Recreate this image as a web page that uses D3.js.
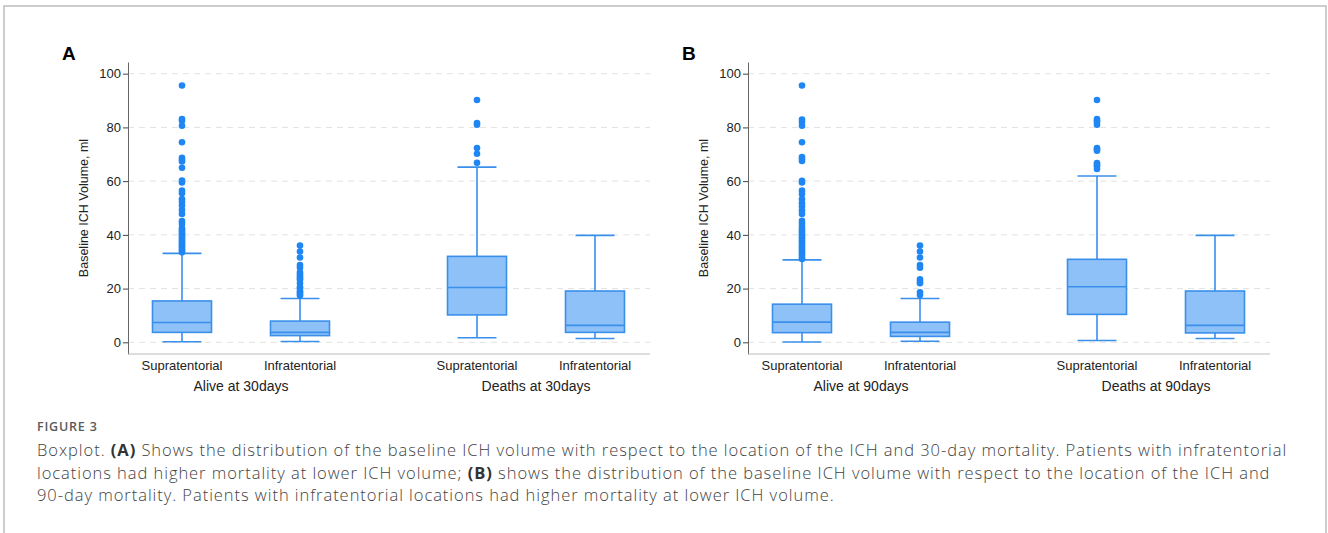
<!DOCTYPE html>
<html>
<head>
<meta charset="utf-8">
<script src="https://cdn.jsdelivr.net/npm/d3@7"></script>
<style>
  body { margin: 0; background: #fff; }
  svg { display: block; }
  .tick text { font-family: "Liberation Sans", Arial, sans-serif; fill: #222; }
</style>
</head>
<body>
<script>
// Categories
var locations = ["Supratentorial", "Infratentorial"];
var groupsA = ["Alive at 30days", "Deaths at 30days"];
var groupsB = ["Alive at 90days", "Deaths at 90days"];
var yTicks = [0, 20, 40, 60, 80, 100];

// Box stats, order: alive supra, alive infra, deaths supra, deaths infra
var lowA  = [0.2, 0.3, 1.7, 1.4];
var q1A   = [3.7, 2.5, 10.2, 3.7];
var medA  = [7.4, 3.7, 20.4, 6.3];
var q3A   = [15.4, 7.9, 32.0, 19.1];
var highA = [33.1, 16.3, 65.2, 39.8];

var lowB  = [0.1, 0.4, 0.7, 1.4];
var q1B   = [3.6, 2.2, 10.4, 3.5];
var medB  = [7.5, 3.7, 20.7, 6.3];
var q3B   = [14.2, 7.5, 30.9, 19.1];
var highB = [30.7, 16.3, 61.9, 39.8];

// Outliers
var outA = [
  [95.6, 83.1, 82.5, 80.6, 74.5, 68.7, 68.0, 67.3, 65.0, 60.2, 59.5, 56.5, 55.5, 53.3, 52.2, 50.9, 49.3, 47.8,
   45.1, 44.0, 42.5, 41.8, 41.2, 40.6, 40.0, 39.4, 38.8, 38.2, 37.6, 37.0, 36.4, 35.8, 35.2, 34.6, 34.0, 33.5],
  [36.0, 33.8, 31.6, 28.8, 27.8, 26.1, 25.2, 24.5, 23.8, 23.2, 22.0, 20.6, 20.1, 19.1, 18.6, 18.0, 17.4],
  [90.2, 81.6, 81.0, 72.3, 70.2, 66.8],
  []
];
var outB = [
  [95.6, 82.9, 82.0, 80.6, 74.5, 69.0, 68.3, 67.5, 60.1, 59.5, 56.5, 55.2, 53.3, 51.8, 50.6, 49.1, 47.8, 45.2,
   44.1, 43.0, 42.2, 41.5, 40.8, 40.1, 39.4, 38.7, 38.0, 37.3, 36.6, 35.9, 35.2, 34.5, 33.8, 33.1, 32.4, 31.7, 31.0],
  [36.0, 33.8, 31.6, 28.8, 27.8, 23.5, 22.6, 22.0, 18.6, 17.6],
  [90.2, 83.1, 82.5, 82.0, 81.0, 72.3, 71.8, 71.3, 66.7, 66.0, 65.5, 64.5],
  []
];

var W = 1328, H = 533;
var boxFill = "#8ec1f8", boxStroke = "#3a8fea", dotColor = "#1f86f3";

var svg = d3.select("body").append("svg")
    .attr("width", W)
    .attr("height", H);

// Frame around the figure
svg.append("path")
    .attr("d", "M4," + (H + 5) + "V6H1326V" + (H + 5))
    .attr("fill", "none")
    .attr("stroke", "#bdbdbd")
    .attr("stroke-width", 1.5);

var y = d3.scaleLinear().domain([-4.35, 104.35]).range([354, 62]);

function drawPanel(offset, letter, groups, low, q1, med, q3, high, outs) {
    var g = svg.append("g").attr("transform", "translate(" + offset + ",0)");
    var axisX = 128, axisEnd = 650;

    var outer = d3.scaleBand().domain(groups).range([93.5, 683.5]).paddingInner(0);
    var inner = d3.scaleBand().domain(locations).range([0, outer.bandwidth()]).padding(0.5);

    // Panel letter
    g.append("text")
        .attr("x", 62).attr("y", 60)
        .style("font-family", "Liberation Sans, Arial, sans-serif")
        .style("font-weight", "bold")
        .style("font-size", "19px")
        .text(letter);

    // Gridlines
    g.selectAll(".grid")
        .data(yTicks)
        .enter().append("line")
        .attr("x1", axisX).attr("x2", axisEnd)
        .attr("y1", d => y(d)).attr("y2", d => y(d))
        .attr("stroke", "#e2e2e2")
        .attr("stroke-width", 1)
        .attr("stroke-dasharray", "6,5");

    // Y axis
    var ya = g.append("g")
        .attr("transform", "translate(" + axisX + ",0)")
        .call(d3.axisLeft(y).tickValues(yTicks).tickSize(5).tickSizeOuter(0).tickPadding(2));
    ya.select(".domain").attr("stroke", "#666");
    ya.selectAll(".tick line").attr("stroke", "#444");
    ya.selectAll(".tick text").style("font-size", "13px");

    g.append("text")
        .attr("transform", "translate(88,208) rotate(-90)")
        .style("text-anchor", "middle")
        .style("font-family", "Liberation Sans, Arial, sans-serif")
        .style("font-size", "12.5px")
        .attr("fill", "#222")
        .text("Baseline ICH Volume, ml");

    // X axis line
    g.append("line")
        .attr("x1", axisX).attr("x2", axisEnd)
        .attr("y1", 354).attr("y2", 354)
        .attr("stroke", "#bbb")
        .attr("stroke-width", 1.2);

    groups.forEach(function(grp, gi) {
        var gg = g.append("g").attr("transform", "translate(" + outer(grp) + ",0)");

        var xa = gg.append("g")
            .attr("transform", "translate(0,354)")
            .call(d3.axisBottom(inner).tickSize(0).tickPadding(7));
        xa.select(".domain").remove();
        xa.selectAll(".tick text").style("font-size", "13px");

        gg.append("text")
            .attr("x", outer.bandwidth() / 2)
            .attr("y", 391)
            .style("text-anchor", "middle")
            .style("font-family", "Liberation Sans, Arial, sans-serif")
            .style("font-size", "14px")
            .attr("fill", "#222")
            .text(grp);

        locations.forEach(function(loc, li) {
            var i = gi * 2 + li;
            var bw = inner.bandwidth();
            var x0 = inner(loc), cx = x0 + bw / 2, cap = bw * 0.33;
            var b = gg.append("g");

            // whisker
            b.append("line")
                .attr("x1", cx).attr("x2", cx)
                .attr("y1", y(low[i])).attr("y2", y(high[i]))
                .attr("stroke", boxStroke).attr("stroke-width", 1.6);
            [low[i], high[i]].forEach(function(v) {
                b.append("line")
                    .attr("x1", cx - cap).attr("x2", cx + cap)
                    .attr("y1", y(v)).attr("y2", y(v))
                    .attr("stroke", boxStroke).attr("stroke-width", 1.6);
            });
            // box
            b.append("rect")
                .attr("x", x0).attr("width", bw)
                .attr("y", y(q3[i])).attr("height", y(q1[i]) - y(q3[i]))
                .attr("fill", boxFill)
                .attr("stroke", boxStroke).attr("stroke-width", 1.6);
            // median
            b.append("line")
                .attr("x1", x0).attr("x2", x0 + bw)
                .attr("y1", y(med[i])).attr("y2", y(med[i]))
                .attr("stroke", boxStroke).attr("stroke-width", 1.6);
            // outliers
            b.selectAll("circle")
                .data(outs[i])
                .enter().append("circle")
                .attr("cx", cx)
                .attr("cy", d => y(d))
                .attr("r", 3.3)
                .attr("fill", dotColor);
        });
    });
}

drawPanel(0, "A", groupsA, lowA, q1A, medA, q3A, highA, outA);
drawPanel(620, "B", groupsB, lowB, q1B, medB, q3B, highB, outB);

// Caption
var cap = svg.append("g")
    .style("font-family", "'Open Sans', Lato, sans-serif")
    .attr("fill", "#3f3f3f");

cap.append("text")
    .attr("x", 37).attr("y", 431)
    .style("font-size", "12.5px")
    .style("font-weight", "600")
    .style("letter-spacing", "0.8px")
    .attr("fill", "#5a5a5a")
    .text("FIGURE 3");

var captionLines = [
    [["Boxplot. ", false], ["(A)", true], [" Shows the distribution of the baseline ICH volume with respect to the location of the ICH and 30-day mortality. Patients with infratentorial", false]],
    [["locations had higher mortality at lower ICH volume; ", false], ["(B)", true], [" shows the distribution of the baseline ICH volume with respect to the location of the ICH and", false]],
    [["90-day mortality. Patients with infratentorial locations had higher mortality at lower ICH volume.", false]]
];

captionLines.forEach(function(line, i) {
    var t = cap.append("text")
        .attr("x", 37)
        .attr("y", 456 + i * 22.5)
        .style("font-size", "16.5px")
        .style("font-weight", "300")
        .style("letter-spacing", "0.95px");
    line.forEach(function(part) {
        t.append("tspan")
            .style("font-weight", part[1] ? "bold" : "300")
            .attr("fill", part[1] ? "#333" : null)
            .text(part[0]);
    });
});
</script>
</body>
</html>
